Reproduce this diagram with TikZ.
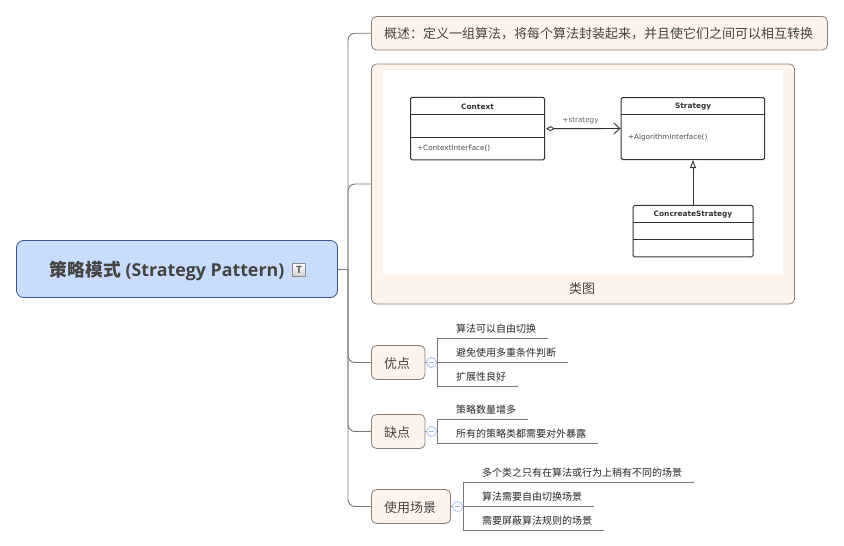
\documentclass[tikz,border=0pt]{standalone}
\usepackage{fontspec}
\setmainfont{Open Sans}
\newfontfamily\cjk{Noto Sans CJK SC}
\newfontfamily\umlfont{DejaVu Sans}
\usetikzlibrary{arrows.meta}
\definecolor{rootfill}{HTML}{C9DCFC}
\definecolor{rootline}{HTML}{3A5590}
\definecolor{topicfill}{HTML}{FEF3EA}
\definecolor{topicline}{HTML}{8B7F75}
\definecolor{branchline}{HTML}{777777}
\definecolor{inktext}{HTML}{444444}
\definecolor{collapseline}{HTML}{9DB6E8}
\begin{document}
\begin{tikzpicture}[x=1pt,y=-1pt,
                    branch/.style={draw=branchline,line width=.9pt},
                    spur/.style={branch,rounded corners=7pt},
                    root/.style={draw=rootline,fill=rootfill,rounded corners=7pt,line width=.8pt,
                                 minimum width=321pt,minimum height=57pt,inner sep=0pt},
                    topic/.style={draw=topicline,fill=topicfill,rounded corners=5pt,line width=.8pt,
                                  inner sep=0pt,text=inktext,text height=13pt,text depth=2pt,
                                  font=\cjk\fontsize{13}{15}\selectfont},
                    leaf/.style={anchor=south west,inner xsep=0pt,inner ysep=4pt,align=left,text=black!85,
                                 font=\cjk\fontsize{10}{12}\selectfont},
                    collapse/.style={circle,draw=collapseline,fill=white,minimum size=10pt,inner sep=0pt,
                                     line width=.7pt,text=collapseline},
                    umlbox/.style={draw=black!80,fill=white,rounded corners=1.5pt,line width=1pt,inner sep=0pt},
                    umlname/.style={font=\umlfont\bfseries\fontsize{7.4}{9}\selectfont,text=black!80},
                    umltext/.style={font=\umlfont\fontsize{7.2}{9}\selectfont,text=black!70}]
 \useasboundingbox (0,0) rectangle (844,546);
 \node[root] (root) at (177,269) {};
 \node[anchor=west,text=inktext,inner sep=0pt,font=\bfseries\fontsize{17.8}{20}\selectfont] (title) at (49.5,271)
   {{\cjk\bfseries 策略模式} (Strategy Pattern)};
 \node[draw=black!45,top color=white,bottom color=black!18,minimum size=13pt,inner sep=0pt,text=black!65,
       font=\bfseries\fontsize{10}{10}\selectfont] (note) at (299,269.5) {T};
 \coordinate (hub) at (348,269);
 %
 \node[topic,minimum width=456pt,minimum height=33.5pt] (summary) at (599.5,33.2)
   {\hspace{-2pt}概述：定义一组算法，将每个算法封装起来，并且使它们之间可以相互转换};
 \node[topic,minimum width=423pt,minimum height=240pt] (figure) at (583,184) {};
 \node[fill=white,minimum width=400pt,minimum height=205pt,inner sep=0pt] (canvas) at (583,172.5) {};
 \node[text=inktext,inner sep=0pt,font=\cjk\fontsize{13}{15}\selectfont] (caption) at (582,289) {类图};
 \node[topic,minimum width=53.5pt,minimum height=34pt] (pros) at (398.2,362.5) {\hspace{-2pt}优点};
 \node[topic,minimum width=53.5pt,minimum height=34pt] (cons) at (398.2,431.5) {\hspace{-2pt}缺点};
 \node[topic,minimum width=79pt,minimum height=34pt] (usage) at (411,506.5) {\hspace{-2pt}使用场景};
 %
 \draw[branch] (root.east) -- (hub);
 \draw[spur] (hub) |- (summary.west);
 \draw[spur] (hub) |- (figure.west);
 \draw[spur] (hub) |- (pros.west);
 \draw[spur] (hub) |- (cons.west);
 \draw[spur] (hub) |- (usage.west);
 %
 % class diagram
 \node[umlbox,minimum width=134pt,minimum height=62.5pt] (context) at (477.5,128.7) {};
 \node[umlbox,minimum width=143.5pt,minimum height=62pt] (strategy) at (692.8,128.5) {};
 \node[umlbox,minimum width=120pt,minimum height=51.5pt] (concrete) at (693,231.2) {};
 \draw[black!80,line width=.8pt] (context.west |- 0,114.5) -- (context.east |- 0,114.5);
 \draw[black!80,line width=.9pt] (context.west |- 0,137) -- (context.east |- 0,137);
 \draw[black!80,line width=.8pt] (strategy.west |- 0,114.5) -- (strategy.east |- 0,114.5);
 \draw[black!80,line width=.8pt] (concrete.west |- 0,222.5) -- (concrete.east |- 0,222.5);
 \draw[black!80,line width=.8pt] (concrete.west |- 0,239.5) -- (concrete.east |- 0,239.5);
 \node[umlname] (contextname) at (477.5,107) {Context};
 \node[umlname] (strategyname) at (693.2,107) {Strategy};
 \node[umlname] (concretename) at (693,215) {ConcreateStrategy};
 \node[umltext,anchor=west,inner sep=0pt] (contextop) at (417,148.5) {+ContextInterFace()};
 \node[umltext,anchor=west,inner sep=0pt] (strategyop) at (628,137.5) {+AlgorithmInterface()};
 \draw[black!80,line width=.9pt,{Diamond[open,length=9pt,width=5pt]}-{Straight Barb[length=6pt,width=11pt]}]
   (context.east) ++(1,0) -- (strategy.west);
 \node[umltext,text=black!60] (strategylabel) at (580.5,121) {+strategy};
 \draw[black!80,line width=.9pt,-{Triangle[open,length=8pt,width=6pt]}] (concrete.north) -- (concrete.north |- strategy.south);
 %
 % pros
 \node[collapse] (prosfold) at (431.5,362.5) {\rule{5pt}{.7pt}};
 \coordinate (prosstem) at (437,362);
 \node[leaf,text width=92pt] (pros1) at (456,338) {算法可以自由切换};
 \node[leaf,text width=112pt] (pros2) at (456,362) {避免使用多重条件判断};
 \node[leaf,text width=62pt] (pros3) at (456,386) {扩展性良好};
 \draw[branch] (pros1.south east) -- (prosstem |- pros1.south) -- (prosstem |- pros3.south) -- (pros3.south east);
 \draw[branch] (prosstem |- pros2.south) -- (pros2.south east);
 \draw[branch] (pros.east) -- (prosfold);
 % cons
 \node[collapse] (consfold) at (431.5,431.5) {\rule{5pt}{.7pt}};
 \coordinate (consstem) at (437,431);
 \node[leaf,text width=72pt] (cons1) at (456,419) {策略数量增多};
 \node[leaf,text width=142pt] (cons2) at (456,443) {所有的策略类都需要对外暴露};
 \draw[branch] (cons1.south east) -- (consstem |- cons1.south) -- (consstem |- cons2.south) -- (cons2.south east);
 \draw[branch] (cons.east) -- (consfold);
 % usage
 \node[collapse] (usagefold) at (457.5,506.5) {\rule{5pt}{.7pt}};
 \coordinate (usagestem) at (463,506);
 \node[leaf,text width=212pt] (usage1) at (482,482) {多个类之只有在算法或行为上稍有不同的场景};
 \node[leaf,text width=112pt] (usage2) at (482,506) {算法需要自由切换场景};
 \node[leaf,text width=122pt] (usage3) at (482,530) {需要屏蔽算法规则的场景};
 \draw[branch] (usage1.south east) -- (usagestem |- usage1.south) -- (usagestem |- usage3.south) -- (usage3.south east);
 \draw[branch] (usagestem |- usage2.south) -- (usage2.south east);
 \draw[branch] (usage.east) -- (usagefold);
\end{tikzpicture}
\end{document}
